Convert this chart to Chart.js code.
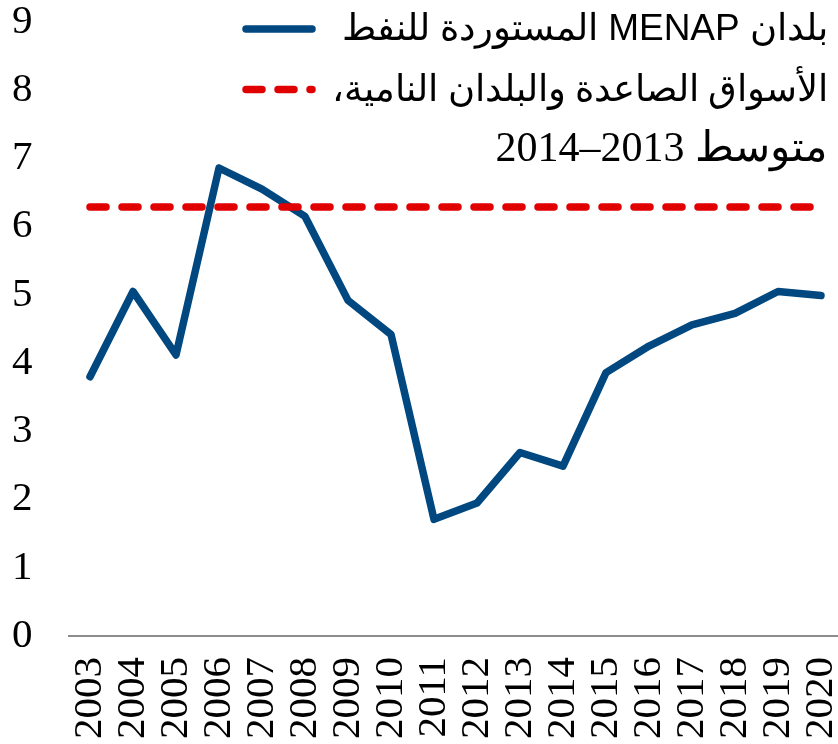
<!DOCTYPE html>
<html>
<head>
<meta charset="utf-8">
<script src="https://cdn.jsdelivr.net/npm/chart.js@4.4.0/dist/chart.umd.min.js"></script>
<style>
  html, body { margin: 0; padding: 0; overflow: hidden; background: #fff; }
  canvas { display: block; }
</style>
</head>
<body>
<canvas id="chart" width="843" height="744"></canvas>
<script>
// Years on the x axis
const years = ["2003", "2004", "2005", "2006", "2007", "2008", "2009", "2010", "2011",
  "2012", "2013", "2014", "2015", "2016", "2017", "2018", "2019", "2020"];

// Oil-importing MENAP countries
const menapImporters = [3.80, 5.05, 4.12, 6.86, 6.55, 6.15, 4.92, 4.42, 1.71,
  1.95, 2.69, 2.49, 3.86, 4.25, 4.56, 4.73, 5.05, 4.99];

// Emerging markets and developing economies, 2013-2014 average
const emdeAverage = [6.29, 6.29, 6.29, 6.29, 6.29, 6.29, 6.29, 6.29, 6.29,
  6.29, 6.29, 6.29, 6.29, 6.29, 6.29, 6.29, 6.29, 6.29];

// Legend text, one entry per line
const menapLabel = ["بلدان MENAP المستوردة للنفط"];
const emdeLabel = ["الأسواق الصاعدة والبلدان النامية،", "متوسط 2013–2014"];

const serif = '"Liberation Serif", "Times New Roman", serif';
const sans = '"Liberation Sans", Arial, sans-serif';

// latin words are set in a sans face, the line with the years a bit larger
const lineFont = (line) => {
  if (/[A-Z]/.test(line)) return "37px " + sans;
  if (/\d/.test(line)) return "42px " + serif;
  return "37px " + serif;
};

// Draws the legend at the top right: lines of right-to-left text with the
// dataset's line style to the left of the first line
const sideLegend = {
  id: "sideLegend",
  afterDraw(chart) {
    const ctx = chart.ctx;
    const right = 828;
    const lineGap = 60.5;
    const markLen = 66;
    let baseline = 40;
    ctx.save();
    chart.data.datasets.forEach((ds) => {
      const lines = ds.legendLines;
      ctx.direction = "rtl";
      ctx.textAlign = "right";
      ctx.textBaseline = "alphabetic";
      ctx.fillStyle = "#000";
      lines.forEach((line, i) => {
        ctx.font = lineFont(line);
        ctx.fillText(line, right, baseline + i * lineGap);
      });
      // marker
      ctx.font = lineFont(lines[0]);
      const w = ctx.measureText(lines[0]).width;
      const markRight = Math.min(312, right - w - 16);
      const y = baseline - 11;
      ctx.beginPath();
      ctx.strokeStyle = ds.borderColor;
      ctx.lineWidth = ds.borderWidth;
      ctx.lineCap = "round";
      ctx.setLineDash(ds.borderDash || []);
      ctx.moveTo(markRight - markLen, y);
      ctx.lineTo(markRight, y);
      ctx.stroke();
      ctx.setLineDash([]);
      baseline += lines.length * lineGap;
    });
    ctx.restore();
  }
};

new Chart(document.getElementById("chart"), {
  type: "line",
  data: {
    labels: years,
    datasets: [
      {
        label: menapLabel.join(" "),
        legendLines: menapLabel,
        data: menapImporters,
        borderColor: "#00487f",
        borderWidth: 7.5,
        borderCapStyle: "round",
        borderJoinStyle: "round",
        pointRadius: 0,
        tension: 0,
        order: 1,
      },
      {
        label: emdeLabel.join(" "),
        legendLines: emdeLabel,
        data: emdeAverage,
        borderColor: "#e00000",
        borderWidth: 7.5,
        borderDash: [16, 16],
        borderCapStyle: "round",
        pointRadius: 0,
        tension: 0,
        order: 0,
      },
    ],
  },
  options: {
    responsive: false,
    animation: false,
    layout: { padding: { top: 22, right: 0.5, bottom: 0, left: 0 } },
    plugins: {
      legend: { display: false },
      tooltip: { enabled: false },
    },
    scales: {
      x: {
        offset: true,
        grid: { display: false, drawTicks: false },
        border: { display: true, color: "#8c8c8c", width: 2 },
        ticks: {
          autoSkip: false,
          minRotation: 90,
          maxRotation: 90,
          padding: 21,
          color: "#000",
          font: { family: serif, size: 41 },
        },
        afterFit: (scale) => {
          scale.height = 108;
          scale.paddingLeft = 0;
          scale.paddingRight = 0;
        },
      },
      y: {
        min: 0,
        max: 9,
        grid: { display: false, drawTicks: false },
        border: { display: false },
        ticks: {
          stepSize: 1,
          padding: 36,
          color: "#000",
          font: { family: serif, size: 41 },
        },
        afterFit: (scale) => {
          scale.width = 68.5;
          scale.paddingTop = 0;
          scale.paddingBottom = 0;
        },
      },
    },
  },
  plugins: [sideLegend],
});
</script>
</body>
</html>
